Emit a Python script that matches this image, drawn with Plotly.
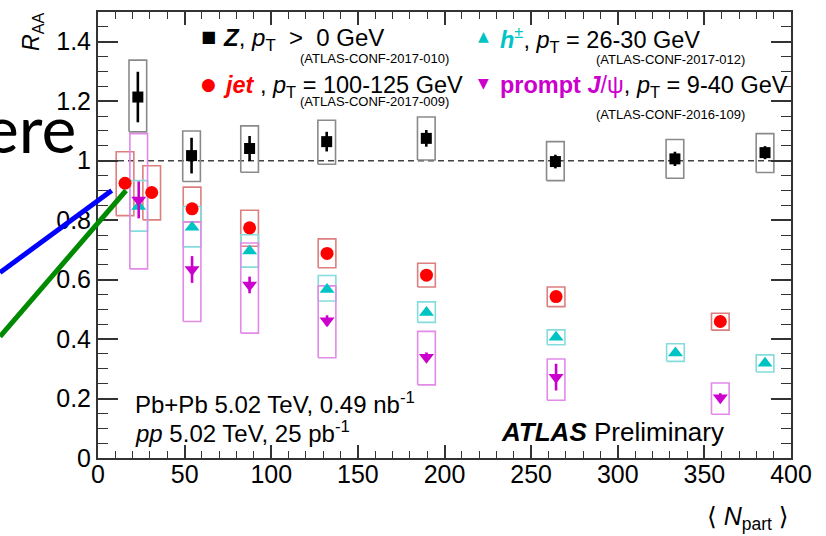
import plotly.graph_objects as go

# ---------------- data ----------------
z_npart = [23.0, 54.0, 87.5, 132.0, 189.5, 264.0, 333.0, 385.0]
z_raa = [1.214, 1.017, 1.041, 1.064, 1.075, 0.997, 1.006, 1.027]
z_stat = [0.085, 0.060, 0.042, 0.033, 0.028, 0.023, 0.024, 0.022]
z_sys_up = [0.124, 0.083, 0.076, 0.072, 0.072, 0.067, 0.065, 0.064]
z_sys_dn = [0.117, 0.087, 0.080, 0.076, 0.073, 0.064, 0.065, 0.067]

jet_npart = [15.6, 31.0, 54.3, 87.5, 132.2, 189.6, 264.4, 359.2]
jet_raa = [0.924, 0.893, 0.838, 0.774, 0.688, 0.615, 0.543, 0.459]
jet_stat = [0.010, 0.010, 0.008, 0.007, 0.006, 0.006, 0.005, 0.005]
jet_sys_up = [0.106, 0.090, 0.073, 0.059, 0.049, 0.040, 0.032, 0.028]
jet_sys_dn = [0.109, 0.092, 0.044, 0.062, 0.048, 0.040, 0.034, 0.029]

h_npart = [23.5, 54.3, 87.5, 132.2, 189.6, 264.4, 333.3, 385.0]
h_raa = [0.846, 0.776, 0.696, 0.567, 0.489, 0.406, 0.353, 0.319]
h_stat = [0.006, 0.005, 0.005, 0.004, 0.004, 0.003, 0.003, 0.003]
h_sys_up = [0.087, 0.070, 0.055, 0.047, 0.036, 0.025, 0.031, 0.028]
h_sys_dn = [0.083, 0.066, 0.054, 0.039, 0.033, 0.025, 0.028, 0.030]

jpsi_npart = [23.5, 54.3, 87.5, 132.2, 189.6, 264.4, 359.2]
jpsi_raa = [0.868, 0.634, 0.582, 0.462, 0.339, 0.272, 0.203]
jpsi_stat = [0.062, 0.045, 0.028, 0.018, 0.016, 0.045, 0.015]
jpsi_sys_up = [0.223, 0.160, 0.141, 0.117, 0.087, 0.061, 0.049]
jpsi_sys_dn = [0.232, 0.175, 0.162, 0.125, 0.093, 0.078, 0.056]

x_ticks = [0, 50, 100, 150, 200, 250, 300, 350, 400]
y_ticks = [0, 0.2, 0.4, 0.6, 0.8, 1.0, 1.2, 1.4]

# ---------------- styling ----------------
FONT = "Liberation Sans, Arial, Helvetica, sans-serif"
BOX_HALF = 5.1
W, H = 826, 536
ML, MR, MT, MB = 98, 35, 10, 78
PW, PH = W - ML - MR, H - MT - MB

series = [
    dict(x=z_npart, y=z_raa, stat=z_stat, up=z_sys_up, dn=z_sys_dn,
         color="#000000", box="#8a8a8a", symbol="square", size=11),
    dict(x=jet_npart, y=jet_raa, stat=jet_stat, up=jet_sys_up, dn=jet_sys_dn,
         color="#ff0000", box="#dd7f7f", symbol="circle", size=13),
    dict(x=h_npart, y=h_raa, stat=h_stat, up=h_sys_up, dn=h_sys_dn,
         color="#00c4c4", box="#85dcdc", symbol="triangle-up", size=13),
    dict(x=jpsi_npart, y=jpsi_raa, stat=jpsi_stat, up=jpsi_sys_up, dn=jpsi_sys_dn,
         color="#cc00cc", box="#e28ae8", symbol="triangle-down", size=13),
]


def box_path(xs, ys, up, dn, half):
    bx, by = [], []
    for xi, yi, u, d in zip(xs, ys, up, dn):
        lo, hi = yi - d, yi + u
        bx += [xi - half, xi + half, xi + half, xi - half, xi - half, None]
        by += [lo, lo, hi, hi, lo, None]
    return bx, by


fig = go.Figure()

# reference line at R_AA = 1
fig.add_shape(type="line", xref="paper", yref="y", x0=0, x1=1, y0=1, y1=1,
              line=dict(color="#444444", width=1.5, dash="6px,4px"), layer="below")

for s in series:
    bx, by = box_path(s["x"], s["y"], s["up"], s["dn"], BOX_HALF)
    fig.add_trace(go.Scatter(x=bx, y=by, mode="lines",
                             line=dict(color=s["box"], width=1.6),
                             hoverinfo="skip", showlegend=False))
for s in series:
    fig.add_trace(go.Scatter(
        x=s["x"], y=s["y"], mode="markers",
        marker=dict(symbol=s["symbol"], size=s["size"], color=s["color"],
                    line=dict(width=0)),
        error_y=dict(type="data", array=s["stat"], width=0, thickness=2.6,
                     color=s["color"]),
        showlegend=False))


def P(x, y):
    return (x - ML) / PW, (H - MB - y) / PH


ann = []


def txt(x, y, text, size, color="#000000", xanchor="left", yanchor="middle",
        family=FONT, angle=0):
    px_, py_ = P(x, y)
    ann.append(dict(x=px_, y=py_, xref="paper", yref="paper", text=text,
                    showarrow=False, xanchor=xanchor, yanchor=yanchor,
                    textangle=angle,
                    font=dict(size=size, color=color, family=family)))


# legend glyphs
txt(208, 35, "■", 16, "#000000", xanchor="center", family="DejaVu Sans")
txt(208, 82, "●", 17, "#ff0000", xanchor="center", family="DejaVu Sans")
txt(483, 34, "▲", 14, "#00c4c4", xanchor="center", family="DejaVu Sans")
txt(483, 81, "▼", 14, "#cc00cc", xanchor="center", family="DejaVu Sans")

# legend texts
txt(221, 38, "<b><i>Z</i></b>, <i>p</i><sub>T</sub>  &gt;  0 GeV", 24)
txt(298, 57, "(ATLAS-CONF-2017-010)", 13)
txt(221, 85, "<span style='color:#ff0000'><b><i>jet</i></b></span> , "
             "<i>p</i><sub>T</sub> = 100-125 GeV", 23.5)
txt(298, 100, "(ATLAS-CONF-2017-009)", 13)
txt(498, 38, "<span style='color:#00c4c4'><b><i>h</i></b><sup>±</sup></span>, "
             "<i>p</i><sub>T</sub> = 26-30 GeV", 23.5)
txt(594, 58, "(ATLAS-CONF-2017-012)", 13)
txt(498, 85, "<span style='color:#cc00cc'><b>prompt <i>J</i></b>/ψ</span>, "
             "<i>p</i><sub>T</sub> = 9-40 GeV", 23.5)
txt(594, 113, "(ATLAS-CONF-2016-109)", 13)

# plot labels
txt(133, 403, "Pb+Pb 5.02 TeV, 0.49 nb<sup>-1</sup>", 24)
txt(133, 432, "<i>pp</i> 5.02 TeV, 25 pb<sup>-1</sup>", 24)
txt(499, 432, "<b><i>ATLAS</i></b> Preliminary", 26)

# axis titles
txt(33, 30, "<i>R</i><sub>AA</sub>", 23, xanchor="center", angle=-90)
txt(791, 518, "⟨ <i>N</i><sub>part</sub> ⟩", 25, xanchor="right",
    family="Liberation Sans, DejaVu Sans, sans-serif")

# slide overlay: partial word and pointer lines
txt(78, 126, "ere", 66, xanchor="right", family="Lato, Open Sans, sans-serif")

shapes_overlay = [
    ((0, 271.7), (111.7, 189.3), "#0000ff"),
    ((0, 336.0), (126.0, 189.3), "#008a00"),
]
for (xa, ya), (xb, yb), col in shapes_overlay:
    x0, y0 = P(xa, ya)
    x1, y1 = P(xb, yb)
    fig.add_shape(type="line", xref="paper", yref="paper", x0=x0, y0=y0,
                  x1=x1, y1=y1, line=dict(color=col, width=5), layer="above")

axis_common = dict(
    showgrid=False, zeroline=False, showline=True, linecolor="#333333",
    linewidth=2, mirror="allticks", ticks="inside", tickcolor="#333333",
    tickwidth=1.6, tickfont=dict(size=25, family=FONT, color="#000000"),
)

fig.update_layout(
    width=W, height=H,
    margin=dict(l=ML, r=MR, t=MT, b=MB, pad=0),
    paper_bgcolor="white", plot_bgcolor="white",
    showlegend=False,
    annotations=ann,
    xaxis=dict(range=[0, 400], tickvals=x_ticks, ticklen=13,
               ticklabelstandoff=-7,
               minor=dict(dtick=10, ticklen=7, ticks="inside",
                          tickcolor="#333333", tickwidth=1.4),
               **axis_common),
    yaxis=dict(range=[0, 1.5], tickvals=y_ticks, ticklen=20,
               minor=dict(dtick=0.05, ticklen=10, ticks="inside",
                          tickcolor="#333333", tickwidth=1.4),
               **axis_common),
)

fig.write_html("out.html")
